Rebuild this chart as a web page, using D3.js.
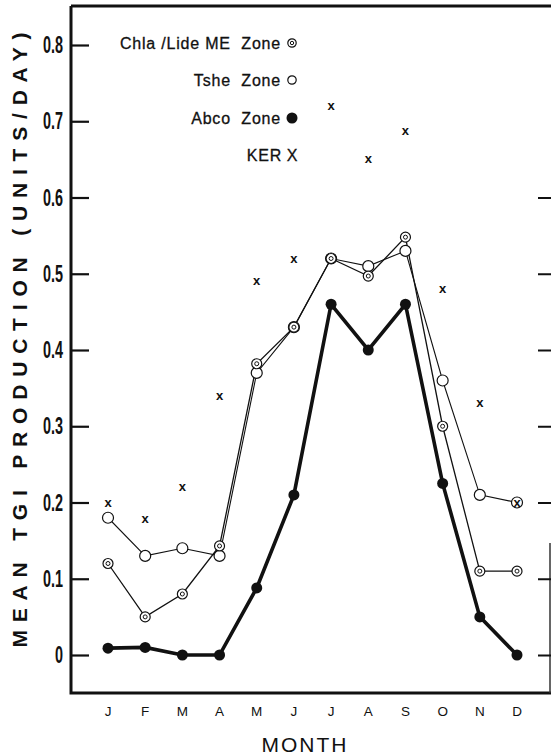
<!DOCTYPE html>
<html>
<head>
<meta charset="utf-8">
<script src="https://cdn.jsdelivr.net/npm/d3@7"></script>
<style>
  html, body { margin: 0; padding: 0; background: #fff; }
  svg { display: block; }
  text { font-family: "Liberation Sans", Arial, sans-serif; fill: #111; }
</style>
</head>
<body>
<div id="app"></div>
<script>
const months = ['J', 'F', 'M', 'A', 'M', 'J', 'J', 'A', 'S', 'O', 'N', 'D']
const yTicks = [0, 0.1, 0.2, 0.3, 0.4, 0.5, 0.6, 0.7, 0.8]
const tickLabels = ['0', '0.1', '0.2', '0.3', '0.4', '0.5', '0.6', '0.7', '0.8']

const chla = [0.12, 0.05, 0.08, 0.143, 0.382, 0.43, 0.52, 0.497, 0.548, 0.30, 0.11, 0.11]
const tshe = [0.18, 0.13, 0.14, 0.13, 0.37, 0.43, 0.52, 0.51, 0.53, 0.36, 0.21, 0.20]
const abco = [0.009, 0.01, 0, 0, 0.088, 0.21, 0.46, 0.40, 0.46, 0.225, 0.05, 0]
const ker = [0.20, 0.178, 0.22, 0.34, 0.49, 0.52, 0.72, 0.65, 0.687, 0.48, 0.33, 0.20]

const W = 551, H = 755
const svg = d3.select('#app').append('svg').attr('width', W).attr('height', H)

const x = d3.scalePoint().domain(d3.range(12)).range([108, 517])
const y = d3.scaleLinear().domain([0, 0.8]).range([655, 45])

// frame (right edge only shows near the bottom)
svg.append('path')
  .attr('d', 'M71,6 L551,6 M71,6 L71,693 L551,693')
  .attr('fill', 'none').attr('stroke', '#111').attr('stroke-width', 3)
svg.append('line').attr('x1', 550).attr('x2', 550).attr('y1', 543).attr('y2', 693)
  .attr('stroke', '#333').attr('stroke-width', 1.5)

// left axis: inward ticks
const left = d3.axisRight(y).tickValues(yTicks).tickSize(18).tickFormat('')
svg.append('g').attr('transform', 'translate(71,0)').call(left)
  .call(g => g.select('.domain').remove())
  .call(g => g.selectAll('line').attr('stroke', '#111').attr('stroke-width', 2.2))
svg.append('g').selectAll('text').data(yTicks).join('text')
  .attr('x', 0).attr('y', 0)
  .attr('text-anchor', 'end')
  .attr('font-size', 24).attr('font-weight', 'bold')
  .attr('transform', d => `translate(63,${y(d) + 8}) scale(0.6,1)`)
  .text((d, i) => tickLabels[i])

// right axis ticks
const right = d3.axisLeft(y).tickValues(yTicks.slice(0, 7)).tickSize(13).tickFormat('')
svg.append('g').attr('transform', 'translate(551,0)').call(right)
  .call(g => g.select('.domain').remove())
  .call(g => g.selectAll('line').attr('stroke', '#111').attr('stroke-width', 2))

// month labels
svg.append('g').selectAll('text').data(months).join('text')
  .attr('x', (d, i) => x(i)).attr('y', 716)
  .attr('text-anchor', 'middle').attr('font-size', 13.5)
  .text(d => d)

svg.append('text').attr('x', 305).attr('y', 752).attr('text-anchor', 'middle')
  .attr('font-size', 21).attr('letter-spacing', 2).text('MONTH')

svg.append('text')
  .attr('transform', 'translate(27,340) rotate(-90)')
  .attr('text-anchor', 'middle').attr('font-size', 21).attr('font-weight', 'bold')
  .attr('textLength', 615).attr('lengthAdjust', 'spacing')
  .text('MEAN  TGI  PRODUCTION  (UNITS/DAY)')

const line = d3.line().x((d, i) => x(i)).y(d => y(d))

// series lines
svg.append('path').datum(tshe).attr('d', line)
  .attr('fill', 'none').attr('stroke', '#111').attr('stroke-width', 1.1)
svg.append('path').datum(chla).attr('d', line)
  .attr('fill', 'none').attr('stroke', '#111').attr('stroke-width', 1.3)
svg.append('path').datum(abco).attr('d', line)
  .attr('fill', 'none').attr('stroke', '#111').attr('stroke-width', 3.6)

// markers
svg.append('g').selectAll('circle').data(tshe).join('circle')
  .attr('cx', (d, i) => x(i)).attr('cy', d => y(d)).attr('r', 5.5)
  .attr('fill', '#fff').attr('stroke', '#111').attr('stroke-width', 1.2)
const dbl = svg.append('g').selectAll('g').data(chla).join('g')
  .attr('transform', (d, i) => `translate(${x(i)},${y(d)})`)
dbl.append('circle').attr('r', 5).attr('fill', '#fff').attr('stroke', '#111').attr('stroke-width', 1.2)
dbl.append('circle').attr('r', 2).attr('fill', 'none').attr('stroke', '#111').attr('stroke-width', 1)
svg.append('g').selectAll('circle').data(abco).join('circle')
  .attr('cx', (d, i) => x(i)).attr('cy', d => y(d)).attr('r', 5.5)
  .attr('fill', '#111')
svg.append('g').selectAll('text').data(ker).join('text')
  .attr('x', (d, i) => x(i)).attr('y', d => y(d) + 4)
  .attr('text-anchor', 'middle').attr('font-size', 13).attr('font-weight', 'bold')
  .text('x')

// legend
const legend = [
  { label: 'Chla /Lide ME  Zone', type: 'dbl', y: 43 },
  { label: 'Tshe  Zone', type: 'open', y: 80 },
  { label: 'Abco  Zone', type: 'filled', y: 118 },
  { label: 'KER', type: 'x', y: 155 }
]
const lg = svg.append('g').selectAll('g').data(legend).join('g')
  .attr('transform', d => `translate(0,${d.y})`)
lg.append('text').attr('x', d => d.type === 'x' ? 282 : 281).attr('y', 6)
  .attr('text-anchor', 'end').attr('font-size', 16).attr('letter-spacing', 0.8)
  .attr('stroke', '#111').attr('stroke-width', 0.3)
  .attr('xml:space', 'preserve').style('white-space', 'pre')
  .text(d => d.label)
lg.each(function(d) {
  const g = d3.select(this)
  if (d.type === 'dbl') {
    g.append('circle').attr('cx', 292).attr('r', 4.2).attr('fill', '#fff').attr('stroke', '#111').attr('stroke-width', 1.2)
    g.append('circle').attr('cx', 292).attr('r', 1.7).attr('fill', 'none').attr('stroke', '#111').attr('stroke-width', 1)
  } else if (d.type === 'open') {
    g.append('circle').attr('cx', 292).attr('r', 4.2).attr('fill', '#fff').attr('stroke', '#111').attr('stroke-width', 1.2)
  } else if (d.type === 'filled') {
    g.append('circle').attr('cx', 292).attr('r', 5.5).attr('fill', '#111')
  } else {
    g.append('text').attr('x', 292).attr('y', 6).attr('text-anchor', 'middle')
      .attr('font-size', 16).attr('stroke', '#111').attr('stroke-width', 0.3).text('X')
  }
})
</script>
</body>
</html>
